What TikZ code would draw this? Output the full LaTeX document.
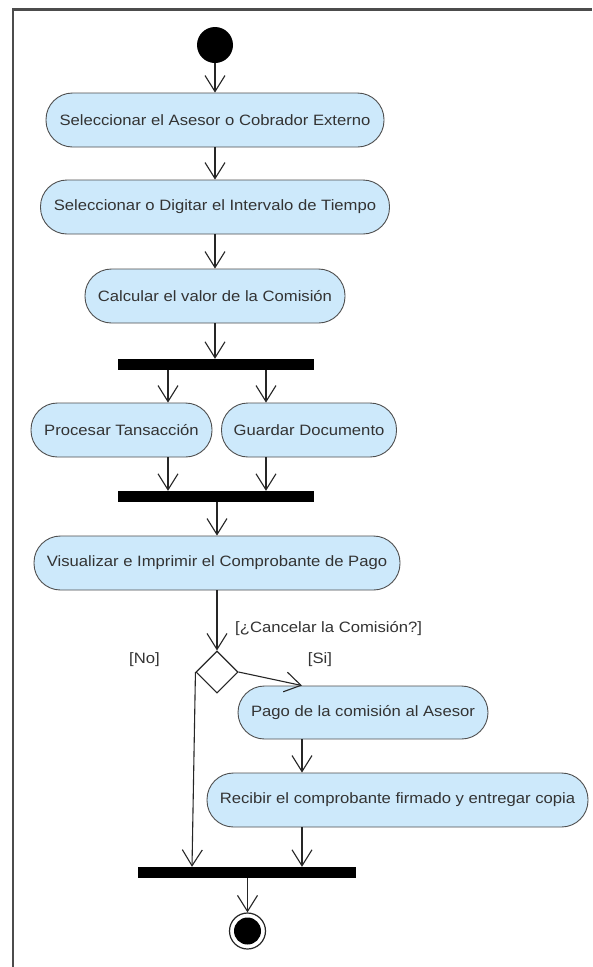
\documentclass[tikz,border=0pt]{standalone}
\usepackage{fontspec}
\setmainfont{Liberation Sans}[FakeStretch=1.11]
\usetikzlibrary{arrows.meta,shapes.geometric}
\definecolor{actfill}{HTML}{CDE9FB}
\definecolor{actline}{HTML}{4F4F4F}
\definecolor{ink}{HTML}{333333}
\begin{document}
\begin{tikzpicture}[x=1pt,y=-1pt,
  activity/.style={draw=actline, fill=actfill, line width=0.9pt,
    rounded corners=26.5pt, minimum height=54pt, inner sep=0pt,
    text=ink, font=\fontsize{15}{18}\selectfont},
  syncbar/.style={fill=black, draw=none, minimum height=11pt, inner sep=0pt},
  flow/.style={draw=black!85, line width=1.1pt,
    -{Straight Barb[length=16pt,width=20pt]}},
  guard/.style={text=ink, inner sep=0pt, font=\fontsize{15}{18}\selectfont},
]
\useasboundingbox (0,0) rectangle (592,967);
\fill[white] (0,0) rectangle (592,967);

% frame of the diagram
\draw[line width=2.5pt, black!70] (13,967) -- (13,9.5) -- (592,9.5);

% lanes used by the parallel and guarded branches
\coordinate (laneA) at (168,0);
\coordinate (laneB) at (266,0);
\coordinate (laneC) at (302,0);
\coordinate (laneN) at (192,0);

% initial node
\node[circle, fill=black, minimum size=36pt, inner sep=0pt] (start) at (215,45) {};

% activities
\node[activity, minimum width=338pt] (a1) at (215,120) {Seleccionar el Asesor o Cobrador Externo};
\node[activity, minimum width=349pt] (a2) at (215,207) {Seleccionar o Digitar el Intervalo de Tiempo};
\node[activity, minimum width=260pt] (a3) at (215,296) {Calcular el valor de la Comisión};
\node[syncbar, minimum width=196pt] (fork) at (216,364.5) {};
\node[activity, minimum width=181pt] (a4) at (121.5,430) {Procesar Tansacción};
\node[activity, minimum width=175pt] (a5) at (309,430) {Guardar Documento};
\node[syncbar, minimum width=196pt] (join) at (216,496.5) {};
\node[activity, minimum width=366pt] (a6) at (217,563) {Visualizar e Imprimir el Comprobante de Pago};
\node[diamond, draw=black!85, fill=white, line width=1.1pt, minimum width=42pt,
      minimum height=42pt, inner sep=0pt] (dec) at (217,672) {};
\node[activity, minimum width=250pt, minimum height=53pt] (a7) at (363,712.5) {Pago de la comisión al Asesor};
\node[activity, minimum width=381pt] (a8) at (397.5,800) {Recibir el comprobante firmado y entregar copia};
\node[syncbar, minimum width=218pt] (merge) at (247,872.5) {};

% final node
\node[circle, draw=black!85, line width=1.2pt, fill=white, minimum size=36pt, inner sep=0pt] (stop) at (247.5,931) {};
\node[circle, fill=black, minimum size=27pt, inner sep=0pt] (stopin) at (stop.center) {};

% guards
\node[guard, anchor=west] (gq) at (235,629) {[¿Cancelar la Comisión?]};
\node[guard] (gno) at (144.5,660) {[No]};
\node[guard] (gsi) at (320,660) {[Si]};

% control flows
\draw[flow] (start.south) -- (a1.north);
\draw[flow] (a1.south) -- (a2.north);
\draw[flow] (a2.south) -- (a3.north);
\draw[flow] (a3.south) -- (fork.north -| a3.south);
\draw[flow] (fork.south -| laneA) -- (a4.north -| laneA);
\draw[flow] (fork.south -| laneB) -- (a5.north -| laneB);
\draw[flow] (a4.south -| laneA) -- (join.north -| laneA);
\draw[flow] (a5.south -| laneB) -- (join.north -| laneB);
\draw[flow] (join.south -| a6.north) -- (a6.north);
\draw[flow] (a6.south) -- (dec.north);
\draw[flow] (dec.east) -- (a7.north -| laneC);
\draw[flow] (dec.west) -- (merge.north -| laneN);
\draw[flow] (a7.south -| laneC) -- (a8.north -| laneC);
\draw[flow] (a8.south -| laneC) -- (merge.north -| laneC);
\draw[flow] (merge.south -| stop.north) -- (stop.north);
\end{tikzpicture}
\end{document}
